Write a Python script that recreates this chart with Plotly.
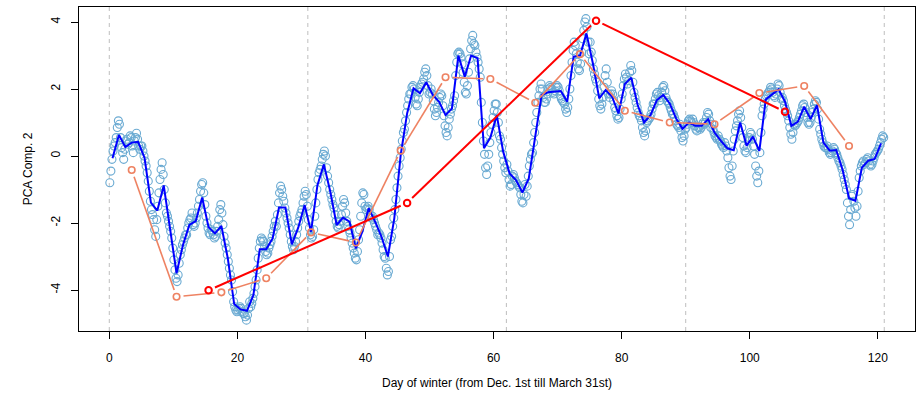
import math
import plotly.graph_objects as go

# Winter days, counted from Dec. 1st (day 0) to March 31st (day 120)
days = list(range(121))

# Daily mean of the second principal component (plotted at noon of each day)
daily_mean = [
    -0.07, 0.63, 0.27, 0.40, 0.42, -0.05, -1.39, -1.63, -0.88, -2.16,
    -3.50, -2.66, -2.06, -1.94, -1.24, -2.13, -2.31, -2.09, -3.05, -4.42,
    -4.58, -4.62, -4.15, -2.78, -2.78, -2.46, -1.54, -1.54, -2.64, -2.14,
    -1.46, -2.26, -0.87, -0.25, -1.06, -2.06, -1.84, -1.96, -2.76, -2.26,
    -1.56, -1.96, -2.41, -3.00, -1.86, 0.03, 1.27, 2.02, 1.87, 2.20,
    1.82, 1.62, 1.22, 1.42, 3.00, 2.37, 3.00, 2.92, 0.23, 0.55,
    1.22, 0.13, -0.52, -0.72, -1.09, -0.67, 0.63, 1.82, 1.90, 1.92,
    1.94, 1.62, 2.97, 3.00, 3.66, 2.77, 1.72, 1.97, 1.77, 1.27,
    2.15, 2.34, 1.52, 1.00, 1.22, 1.67, 1.82, 1.57, 1.12, 0.81,
    1.00, 0.90, 0.90, 1.10, 0.70, 0.45, 0.23, 0.17, 1.00, 0.31,
    0.58, 0.15, 1.69, 1.84, 1.99, 1.62, 0.90, 1.02, 1.47, 1.10,
    1.52, 0.40, 0.16, 0.18, -0.42, -1.26, -1.34, -0.35, -0.14, -0.09,
    0.38,
]

# Four-hourly readings of each day (hours below)
reading_hours = [2, 6, 10, 14, 18, 22]
readings = [
    [-0.80, -0.45, -0.10, 0.15, 0.30, 0.40],
    [0.55, 0.85, 1.05, 0.95, 0.55, 0.25],
    [0.10, -0.10, 0.20, 0.45, 0.50, 0.35],
    [0.40, 0.60, 0.55, 0.30, 0.10, 0.45],
    [0.55, 0.68, 0.50, 0.30, 0.20, 0.30],
    [0.30, 0.15, 0.00, -0.15, -0.30, -0.50],
    [-0.75, -1.05, -1.35, -1.60, -1.75, -1.90],
    [-2.20, -2.40, -1.90, -1.50, -1.10, -0.70],
    [-0.40, -0.20, -0.55, -1.00, -1.40, -1.70],
    [-1.80, -1.95, -2.10, -2.25, -2.45, -2.75],
    [-3.10, -3.40, -3.65, -3.75, -3.55, -3.20],
    [-2.95, -2.80, -2.65, -2.55, -2.45, -2.35],
    [-2.35, -2.15, -2.00, -1.90, -1.85, -1.70],
    [-2.05, -2.10, -2.00, -1.85, -1.70, -1.50],
    [-1.30, -1.05, -0.85, -0.80, -1.10, -1.45],
    [-1.80, -2.00, -2.15, -2.30, -2.35, -2.20],
    [-2.25, -2.35, -2.45, -2.40, -2.25, -2.10],
    [-1.90, -1.60, -1.45, -1.70, -2.05, -2.40],
    [-2.60, -2.75, -2.95, -3.15, -3.35, -3.55],
    [-3.70, -4.05, -4.35, -4.50, -4.60, -4.65],
    [-4.60, -4.55, -4.50, -4.55, -4.65, -4.70],
    [-4.70, -4.80, -4.90, -4.75, -4.55, -4.35],
    [-4.50, -4.40, -4.25, -4.10, -3.90, -3.70],
    [-3.40, -3.05, -2.75, -2.55, -2.45, -2.50],
    [-2.55, -2.70, -2.85, -2.95, -2.90, -2.75],
    [-2.65, -2.55, -2.40, -2.25, -2.10, -1.95],
    [-2.10, -1.75, -1.40, -1.10, -0.90, -1.00],
    [-1.20, -1.35, -1.55, -1.70, -1.85, -2.00],
    [-2.15, -2.35, -2.55, -2.70, -2.80, -2.70],
    [-2.55, -2.35, -2.15, -1.95, -1.80, -1.70],
    [-1.60, -1.40, -1.20, -1.05, -1.15, -1.50],
    [-1.90, -2.15, -2.35, -2.45, -2.40, -2.20],
    [-1.80, -1.40, -1.00, -0.70, -0.50, -0.40],
    [-0.30, -0.10, 0.05, 0.15, 0.00, -0.35],
    [-0.60, -0.80, -1.00, -1.15, -1.30, -1.45],
    [-1.55, -1.75, -1.95, -2.10, -2.15, -2.05],
    [-1.95, -1.75, -1.50, -1.30, -1.40, -1.70],
    [-1.95, -2.10, -2.20, -2.30, -2.45, -2.60],
    [-2.75, -2.90, -3.05, -3.10, -2.85, -2.50],
    [-2.20, -1.80, -1.40, -1.10, -1.15, -1.50],
    [-1.60, -1.55, -1.50, -1.60, -1.75, -1.85],
    [-1.80, -1.90, -2.00, -2.10, -2.20, -2.35],
    [-2.30, -2.35, -2.45, -2.60, -2.80, -3.00],
    [-3.05, -3.35, -3.55, -3.45, -3.00, -2.50],
    [-2.40, -2.10, -1.85, -1.60, -1.30, -0.95],
    [-0.60, -0.30, -0.05, 0.20, 0.45, 0.70],
    [0.80, 1.05, 1.30, 1.50, 1.70, 1.85],
    [1.85, 2.05, 2.10, 2.00, 1.75, 1.55],
    [1.50, 1.70, 1.90, 2.05, 2.15, 2.20],
    [2.30, 2.50, 2.60, 2.40, 2.10, 1.85],
    [1.90, 2.00, 1.85, 1.65, 1.40, 1.20],
    [1.30, 1.45, 1.60, 1.75, 1.85, 1.80],
    [1.50, 1.20, 0.90, 0.70, 0.60, 0.85],
    [1.10, 1.25, 1.40, 1.50, 1.65, 1.80],
    [2.40, 2.80, 3.05, 3.10, 3.05, 2.95],
    [2.75, 2.50, 2.20, 1.90, 1.85, 2.10],
    [2.50, 2.90, 3.20, 3.45, 3.60, 3.35],
    [3.30, 3.10, 2.95, 2.80, 2.60, 2.35],
    [1.60, 1.00, 0.45, 0.05, -0.35, -0.55],
    [-0.30, 0.05, 0.40, 0.70, 0.95, 1.15],
    [1.35, 1.55, 1.55, 1.30, 1.00, 0.60],
    [0.50, 0.25, 0.05, -0.15, -0.35, -0.50],
    [-0.25, -0.45, -0.70, -0.90, -0.85, -0.60],
    [-0.55, -0.65, -0.75, -0.80, -0.85, -0.90],
    [-0.95, -1.15, -1.35, -1.40, -1.15, -0.85],
    [-1.20, -0.90, -0.60, -0.30, -0.10, 0.05],
    [0.10, 0.40, 0.70, 1.00, 1.30, 1.60],
    [1.80, 2.00, 2.15, 2.00, 1.75, 1.60],
    [1.60, 1.70, 1.85, 2.00, 2.10, 2.05],
    [2.00, 1.90, 1.85, 1.95, 2.05, 2.10],
    [2.05, 1.95, 1.80, 1.70, 1.65, 1.60],
    [1.55, 1.40, 1.30, 1.45, 1.70, 2.00],
    [2.40, 2.80, 3.15, 3.40, 3.30, 3.05],
    [2.80, 2.60, 2.55, 2.75, 3.10, 3.50],
    [3.75, 4.00, 4.10, 3.85, 3.40, 3.05],
    [3.40, 3.10, 2.85, 2.60, 2.45, 2.30],
    [2.20, 1.95, 1.70, 1.50, 1.40, 1.55],
    [1.75, 2.05, 2.40, 2.60, 2.20, 1.85],
    [1.75, 1.85, 1.95, 1.85, 1.65, 1.45],
    [1.35, 1.20, 1.10, 1.15, 1.40, 1.70],
    [1.85, 2.10, 2.30, 2.45, 2.35, 2.15],
    [2.25, 2.50, 2.70, 2.55, 2.20, 1.90],
    [1.75, 1.60, 1.45, 1.30, 1.20, 1.15],
    [1.05, 0.85, 0.70, 0.60, 0.75, 1.00],
    [1.05, 1.10, 1.15, 1.25, 1.40, 1.55],
    [1.55, 1.70, 1.85, 1.90, 1.80, 1.65],
    [1.75, 1.90, 2.05, 2.10, 1.95, 1.75],
    [1.65, 1.60, 1.55, 1.45, 1.35, 1.25],
    [1.25, 1.15, 1.05, 0.95, 0.90, 0.85],
    [0.95, 0.75, 0.55, 0.45, 0.60, 0.80],
    [0.85, 0.95, 1.05, 1.10, 1.05, 1.00],
    [1.10, 1.00, 0.90, 0.80, 0.75, 0.85],
    [0.85, 0.80, 0.85, 0.95, 1.00, 0.95],
    [1.00, 1.15, 1.30, 1.25, 1.05, 0.85],
    [0.95, 0.80, 0.70, 0.60, 0.55, 0.50],
    [0.60, 0.50, 0.45, 0.35, 0.30, 0.25],
    [0.40, 0.30, 0.15, -0.05, -0.35, -0.60],
    [-0.70, -0.30, 0.15, 0.50, 0.75, 0.90],
    [1.05, 1.25, 1.35, 1.15, 0.85, 0.55],
    [0.30, 0.15, 0.10, 0.25, 0.45, 0.55],
    [0.70, 0.65, 0.50, 0.30, 0.05, -0.30],
    [-0.60, -0.80, -0.45, 0.10, 0.70, 1.20],
    [1.40, 1.55, 1.70, 1.80, 1.85, 1.90],
    [1.95, 2.05, 2.00, 1.90, 1.80, 1.75],
    [1.85, 2.00, 2.15, 2.10, 1.90, 1.70],
    [1.75, 1.65, 1.50, 1.40, 1.30, 1.20],
    [1.05, 0.85, 0.65, 0.50, 0.70, 0.95],
    [0.90, 0.95, 1.00, 1.05, 1.15, 1.25],
    [1.35, 1.50, 1.55, 1.45, 1.30, 1.15],
    [1.00, 0.95, 1.00, 1.15, 1.30, 1.40],
    [1.55, 1.65, 1.60, 1.40, 1.10, 0.80],
    [0.65, 0.50, 0.40, 0.30, 0.25, 0.25],
    [0.30, 0.20, 0.10, 0.05, 0.10, 0.15],
    [0.25, 0.20, 0.10, 0.05, -0.05, -0.15],
    [-0.20, -0.30, -0.40, -0.55, -0.70, -0.85],
    [-1.00, -1.40, -1.80, -2.05, -1.60, -1.20],
    [-1.15, -1.35, -1.55, -1.80, -1.50, -1.05],
    [-0.65, -0.45, -0.30, -0.20, -0.15, -0.25],
    [-0.20, -0.10, -0.05, -0.15, -0.25, -0.30],
    [-0.25, -0.15, -0.05, 0.05, 0.10, 0.15],
    [0.20, 0.30, 0.40, 0.50, 0.60, 0.55],
]

# Weekly means (mid-week days)
week_day = [3.5, 10.5, 17.5, 24.5, 31.5, 38.5, 45.5, 52.5, 59.5,
            66.5, 73.5, 80.5, 87.5, 94.5, 101.5, 108.5, 115.5]
week_mean = [-0.42, -4.20, -4.07, -3.65, -2.28, -2.58, 0.16, 2.35, 2.30,
             1.59, 3.04, 1.35, 1.00, 0.95, 1.88, 2.09, 0.30]

# Monthly means (mid-month days)
month_day = [15.5, 46.5, 76.0, 105.5]
month_mean = [-4.01, -1.40, 4.04, 1.32]

# Month boundaries: Dec 1, Jan 1, Feb 1, Mar 1, end of March
month_edges = [0, 31, 62, 90, 121]

x_ticks = [0, 20, 40, 60, 80, 100, 120]
y_ticks = [-4, -2, 0, 2, 4]

# Page geometry
W, H = 916, 396
ML, MR, MT, MB = 79, 1, 7, 65
x_range = [-4.73, 125.8]
y_range = [-5.224, 4.448]
sx = (W - ML - MR) / (x_range[1] - x_range[0])
sy = (H - MT - MB) / (y_range[1] - y_range[0])


def gapped_segments(xs, ys, gap=7.0):
    """Segments joining consecutive points, stopped short of each point
    so the open circles stay clear (like type='b' in base graphics)."""
    gx, gy = [], []
    for i in range(len(xs) - 1):
        dx, dy = xs[i + 1] - xs[i], ys[i + 1] - ys[i]
        length = math.hypot(dx * sx, dy * sy)
        if length <= 2 * gap:
            continue
        f = gap / length
        gx += [xs[i] + dx * f, xs[i + 1] - dx * f, None]
        gy += [ys[i] + dy * f, ys[i + 1] - dy * f, None]
    return gx, gy


cloud_x, cloud_y = [], []
for d, row in zip(days, readings):
    for h, v in zip(reading_hours, row):
        cloud_x.append(d + h / 24)
        cloud_y.append(v)

LIGHT_BLUE = "#6AAAD2"
DARK_BLUE = "#0000FF"
SALMON = "#EE8262"
RED = "#FF0000"

fig = go.Figure()

fig.add_trace(go.Scatter(
    x=cloud_x, y=cloud_y, mode="markers",
    marker=dict(symbol="circle-open", size=8, color=LIGHT_BLUE,
                line=dict(width=1.1)),
    hoverinfo="skip", showlegend=False))

fig.add_trace(go.Scatter(
    x=[d + 0.5 for d in days], y=daily_mean, mode="lines",
    line=dict(color=DARK_BLUE, width=2), showlegend=False))

wx, wy = gapped_segments(week_day, week_mean)
fig.add_trace(go.Scatter(x=wx, y=wy, mode="lines",
                         line=dict(color=SALMON, width=1.6),
                         showlegend=False, hoverinfo="skip"))
fig.add_trace(go.Scatter(
    x=week_day, y=week_mean, mode="markers",
    marker=dict(symbol="circle-open", size=6.5, color=SALMON,
                line=dict(width=1.6)),
    showlegend=False))

mx, my = gapped_segments(month_day, month_mean)
fig.add_trace(go.Scatter(x=mx, y=my, mode="lines",
                         line=dict(color=RED, width=2),
                         showlegend=False, hoverinfo="skip"))
fig.add_trace(go.Scatter(
    x=month_day, y=month_mean, mode="markers",
    marker=dict(symbol="circle-open", size=6.5, color=RED,
                line=dict(width=2)),
    showlegend=False))

for e in month_edges:
    fig.add_shape(type="line", xref="x", yref="paper", x0=e, x1=e, y0=0, y1=1,
                  line=dict(color="#BEBEBE", width=1, dash="4px,4px"),
                  layer="below")

FONT = "Liberation Sans, Arial, Helvetica, sans-serif"

fig.update_layout(
    width=W, height=H,
    margin=dict(l=ML, r=MR, t=MT, b=MB, autoexpand=False),
    paper_bgcolor="white", plot_bgcolor="white",
    font=dict(family=FONT, size=12, color="black"),
    xaxis=dict(
        range=x_range, showgrid=False, zeroline=False,
        showline=True, mirror=True, linecolor="black", linewidth=1,
        ticks="outside", ticklen=7, tickcolor="black", tickwidth=1,
        tickvals=x_ticks, ticktext=[str(t) for t in x_ticks],
        ticklabelstandoff=9,
        title=dict(text="Day of winter (from Dec. 1st till March 31st)",
                   standoff=14, font=dict(size=12)),
    ),
    yaxis=dict(
        range=y_range, showgrid=False, zeroline=False,
        showline=True, mirror=True, linecolor="black", linewidth=1,
        ticks="outside", ticklen=7, tickcolor="black", tickwidth=1,
        tickvals=y_ticks, ticktext=[str(t) for t in y_ticks],
        tickangle=-90, ticklabelstandoff=6,
        title=dict(text="PCA Comp. 2", standoff=14, font=dict(size=12)),
    ),
)

fig.write_html("out.html")
